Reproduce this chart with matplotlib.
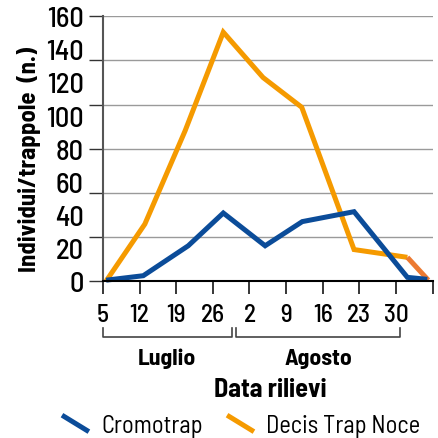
import matplotlib
matplotlib.use('Agg')
import matplotlib.pyplot as plt
import matplotlib.transforms as mtransforms
from matplotlib.lines import Line2D
from matplotlib.legend_handler import HandlerBase

FONT = ['Barlow Semi Condensed', 'DejaVu Sans']
plt.rcParams['font.family'] = FONT

# ---- data (x = day counted from 1 July) ----
cromo_days = [5.6, 12.7, 21.3, 28.0, 36.0, 43.1, 53.0, 63.2, 67.0]
cromo_vals = [0.5, 3.2, 21.3, 41.1, 21.3, 35.9, 41.9, 2.2, 1.0]
decis_days = [5.6, 13.0, 20.7, 28.0, 35.6, 43.0, 53.0, 63.2]
decis_vals = [0.0, 34.4, 90.8, 150.4, 123.0, 105.0, 19.0, 14.3]
decis_tail_days = [63.2, 67.2]
decis_tail_vals = [14.3, 0.5]

tick_days = [5, 12, 19, 26, 33, 40, 47, 54, 61, 68]
tick_labels = ['5', '12', '19', '26', '2', '9', '16', '23', '30', '']
y_label_vals = [0, 20, 40, 60, 80, 100, 120, 140, 160]
months = ['Luglio', 'Agosto']
month_spans = [(5.0, 29.6), (30.4, 61.8)]
series_names = ['Cromotrap', 'Decis Trap Noce']

BLUE = '#0B4C99'
ORANGE = '#F59A00'
TAIL = '#EC7A32'

W, H = 438, 439
fig = plt.figure(figsize=(W / 100, H / 100), dpi=100)
ax = fig.add_axes([103 / W, 157 / H, 329.5 / W, 264.7 / H])
ax.set_xlim(5, 68)
ax.set_ylim(0, 160)

ax.plot(decis_days, decis_vals, color=ORANGE, lw=3.6, solid_joinstyle='miter',
        solid_capstyle='butt', zorder=3, clip_on=False)
ax.plot(decis_tail_days, decis_tail_vals, color=TAIL, lw=3.6,
        solid_capstyle='butt', zorder=3, clip_on=False)
ax.plot(cromo_days, cromo_vals, color=BLUE, lw=3.6, solid_joinstyle='miter',
        solid_capstyle='butt', zorder=4, clip_on=False)

# y axis: labels every 20 (no marks), grid/marks at sixths
ax.yaxis.remove_overlapping_locs = False
ax.set_yticks(y_label_vals)
ax.set_yticklabels([str(v) for v in y_label_vals], fontsize=20.5, fontweight=500)
ax.tick_params(axis='y', which='major', length=0, pad=14)
ax.set_yticks([160 * k / 6 for k in range(7)], minor=True)
ax.tick_params(axis='y', which='minor', length=10, width=1.0, color='#333333')
ax.grid(axis='y', which='minor', color='#9a9a9a', lw=1.0)
ax.set_axisbelow(True)

# x axis
ax.set_xticks(tick_days)
ax.set_xticklabels(tick_labels, fontsize=18.2, fontweight=500)
ax.tick_params(axis='x', length=9.5, width=1.1, color='black', pad=6)

for s in ['top', 'right']:
    ax.spines[s].set_visible(False)
ax.spines['left'].set_color('#555555')
ax.spines['left'].set_linewidth(1.5)
ax.spines['bottom'].set_color('black')
ax.spines['bottom'].set_linewidth(1.5)
ax.spines['bottom'].set_zorder(5)

trans = mtransforms.blended_transform_factory(ax.transData, ax.transAxes)
trans_fig_y = mtransforms.blended_transform_factory(ax.transData, fig.transFigure)
for name, (a, b) in zip(months, month_spans):
    ax.plot([a, a, b, b], [-0.179, -0.213, -0.213, -0.179], transform=trans,
            clip_on=False, color='#444444', lw=1.2)
    ax.text((a + b) / 2, 1 - 365 / H, name, transform=trans_fig_y, ha='center',
            va='baseline', fontsize=17, fontweight='bold')

fig.text(270 / W, 1 - 397.5 / H, 'Data rilievi', ha='center', va='baseline',
         fontsize=18.8, fontweight='bold')

fig.text(36.5 / W, 1 - 160 / H, 'Individui/trappole  (n.)', rotation=90,
         rotation_mode='anchor', ha='center', va='baseline', fontsize=17.8,
         fontweight='bold')


class DiagHandler(HandlerBase):
    def create_artists(self, legend, orig_handle, xdescent, ydescent, width,
                       height, fontsize, trans):
        ln = Line2D([-xdescent, -xdescent + width],
                    [-ydescent + height, -ydescent],
                    color=orig_handle.get_color(),
                    lw=orig_handle.get_linewidth(),
                    solid_capstyle='butt', transform=trans)
        return [ln]


handles = [Line2D([], [], color=BLUE, lw=3.6), Line2D([], [], color=ORANGE, lw=3.6)]
fig.legend(handles, series_names, loc='center left', bbox_to_anchor=(62 / W, 12.5 / H),
           ncol=2, frameon=False, handler_map={Line2D: DiagHandler()},
           handlelength=1.1, handleheight=0.66, handletextpad=0.5,
           columnspacing=1.0, prop={'size': 17.6, 'family': FONT}, borderpad=0,
           borderaxespad=0)

fig.savefig('out.png', dpi=100)
